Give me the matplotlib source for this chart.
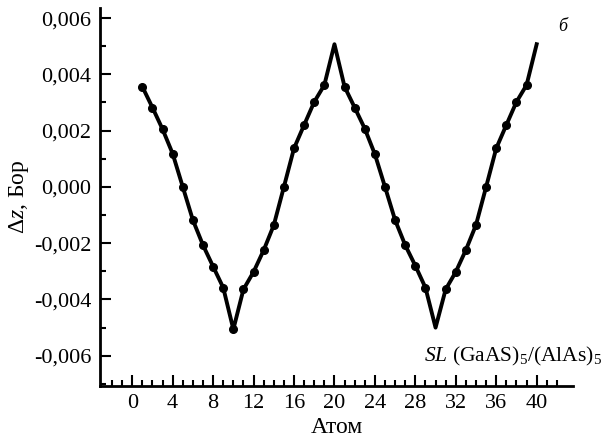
import numpy as np
import matplotlib
matplotlib.use('Agg')
import matplotlib.pyplot as plt
from matplotlib.ticker import MultipleLocator, FixedLocator, FuncFormatter

plt.rcParams['font.family'] = ['Liberation Serif', 'DejaVu Serif']
plt.rcParams['mathtext.fontset'] = 'custom'
plt.rcParams['mathtext.rm'] = 'Liberation Serif'
plt.rcParams['mathtext.it'] = 'Liberation Serif:italic'
plt.rcParams['axes.unicode_minus'] = False

# atom index and displacement (Bohr)
atoms = np.arange(1, 41)
dz = [0.00356, 0.00282, 0.00205, 0.00118, 0.0, -0.00118, -0.00207, -0.00283, -0.00358, -0.00506,
      -0.00364, -0.00302, -0.00225, -0.00136, 0.0, 0.00137, 0.0022, 0.00302, 0.00362, 0.00507,
      0.00356, 0.00282, 0.00207, 0.00116, 0.0, -0.00118, -0.00207, -0.0028, -0.00358, -0.00500,
      -0.00364, -0.00302, -0.00224, -0.00135, 0.0, 0.00137, 0.0022, 0.00302, 0.00362, 0.00507]
# no marker on atoms 20, 30, 40
marked = [i for i, a in enumerate(atoms) if a not in (20, 30, 40)]

xticks = list(range(0, 41, 4))
xminor = list(range(-2, 43))
yticks = [-0.006, -0.004, -0.002, 0.0, 0.002, 0.004, 0.006]

fig = plt.figure(figsize=(6.09, 4.4), dpi=100)
ax = fig.add_axes([0.164, 0.123, 0.777, 0.859])

ax.plot(atoms, dz, color='black', lw=2.8, marker='o', ms=5.5, markevery=marked)

ax.set_xlim(-3.2, 43.6)
ax.set_ylim(-0.00707, 0.00636)
ax.set_xticks(xticks)
ax.xaxis.set_minor_locator(FixedLocator(xminor))
ax.set_yticks(yticks)
ax.yaxis.set_minor_locator(MultipleLocator(0.001))
ax.yaxis.set_major_formatter(FuncFormatter(lambda v, p: ('%.3f' % v).replace('.', ',').replace('-0,000', '0,000')))

for s in ('top', 'right'):
    ax.spines[s].set_visible(False)
for s in ('left', 'bottom'):
    ax.spines[s].set_linewidth(2)

ax.tick_params(which='both', direction='in', width=1.5, labelsize=16)
ax.tick_params(which='major', length=8, pad=6)
ax.tick_params(which='minor', length=4)

ax.set_xlabel('Атом', fontsize=17, labelpad=3)
ax.set_ylabel(r'$\Delta z$, Бор', fontsize=17, labelpad=2)

ax.text(0.979, 0.95, 'б', transform=ax.transAxes, fontsize=13, style='italic', ha='center', va='center')
ax.text(1.061, 0.077, r'$\mathit{SL}$ (GaAS)$_5$/(AlAs)$_5$', transform=ax.transAxes,
        fontsize=15.5, ha='right', va='center')

fig.savefig('out.png', dpi=100)
